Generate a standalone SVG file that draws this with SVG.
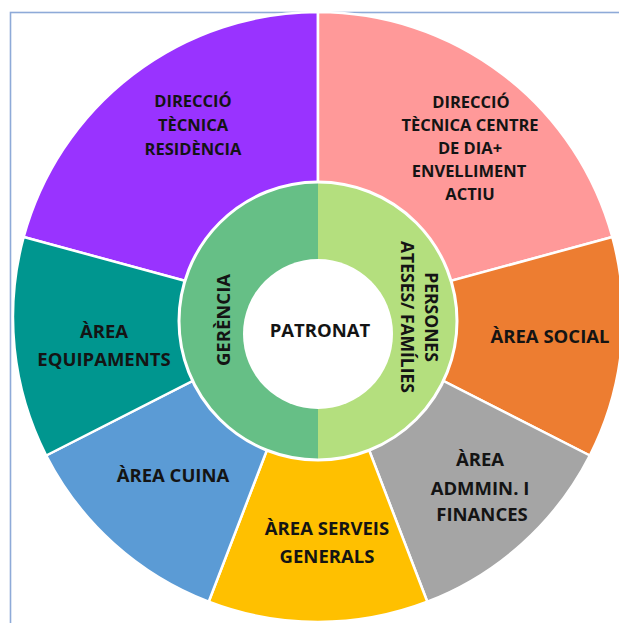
<svg xmlns="http://www.w3.org/2000/svg" width="619" height="623" viewBox="0 0 619 623">
  <style>
    .seg { stroke: #ffffff; stroke-width: 2.5; stroke-linejoin: round; }
    .lbl { font-family: "Open Sans", "Liberation Sans", sans-serif; font-weight: 700; fill: #141414; text-anchor: middle; }
    .s17 { font-size: 16.5px; }
    .s19 { font-size: 18.5px; }
  </style>
  <rect width="619" height="623" fill="#ffffff"/>
  <rect id="frame" x="10.5" y="12.5" width="700" height="700" fill="none" stroke="#8eaad8" stroke-width="1.6"/>

  <g id="dir-residencia">
    <path class="seg" d="M318,317 L23.7,237 A305,305 0 0,1 318,12 Z" fill="#9933ff"/>
    <text class="lbl s17" x="193"><tspan x="193" y="107">DIRECCIÓ</tspan><tspan x="193" y="131">TÈCNICA</tspan><tspan x="193" y="155">RESIDÈNCIA</tspan></text>
  </g>
  <g id="dir-centre-dia">
    <path class="seg" d="M318,317 L318,12 A305,305 0 0,1 612.3,237 Z" fill="#ff9999"/>
    <text class="lbl s17" x="470"><tspan x="471" y="108">DIRECCIÓ</tspan><tspan x="470" y="131">TÈCNICA CENTRE</tspan><tspan x="470" y="154">DE DIA+</tspan><tspan x="469" y="177">ENVELLIMENT</tspan><tspan x="470" y="200">ACTIU</tspan></text>
  </g>
  <g id="area-social">
    <path class="seg" d="M318,317 L612.3,237 A305,305 0 0,1 589.8,455.5 Z" fill="#ed7d31"/>
    <text class="lbl s19" x="550" y="343">ÀREA SOCIAL</text>
  </g>
  <g id="area-admin">
    <path class="seg" d="M318,317 L589.8,455.5 A305,305 0 0,1 427.3,601.7 Z" fill="#a5a5a5"/>
    <text class="lbl s19" x="480"><tspan x="480" y="466">ÀREA</tspan><tspan x="480" y="495">ADMMIN. I</tspan><tspan x="482" y="521">FINANCES</tspan></text>
  </g>
  <g id="area-serveis">
    <path class="seg" d="M318,317 L427.3,601.7 A305,305 0 0,1 208.7,601.7 Z" fill="#ffc000"/>
    <text class="lbl s19" x="327"><tspan x="327" y="535">ÀREA SERVEIS</tspan><tspan x="327" y="563">GENERALS</tspan></text>
  </g>
  <g id="area-cuina">
    <path class="seg" d="M318,317 L208.7,601.7 A305,305 0 0,1 46.2,455.5 Z" fill="#5b9bd5"/>
    <text class="lbl s19" x="173" y="482">ÀREA CUINA</text>
  </g>
  <g id="area-equipaments">
    <path class="seg" d="M318,317 L46.2,455.5 A305,305 0 0,1 23.7,237 Z" fill="#00968f"/>
    <text class="lbl s19" x="104"><tspan x="104" y="338">ÀREA</tspan><tspan x="104" y="366">EQUIPAMENTS</tspan></text>
  </g>

  <g id="gerencia">
    <path d="M318,182 A139,139 0 0,0 318,460 Z" fill="#66bf86"/>
    <text class="lbl s19" transform="translate(230,320) rotate(-90)" x="0" y="0">GERÈNCIA</text>
  </g>
  <g id="persones-ateses">
    <path d="M318,182 A139,139 0 0,1 318,460 Z" fill="#b4df7e"/>
    <text class="lbl" style="font-size:17.5px" transform="translate(425,317) rotate(90)" x="0" y="0">PERSONES</text>
    <text class="lbl" style="font-size:17.5px" transform="translate(401,317) rotate(90)" x="0" y="0">ATESES/ FAMÍLIES</text>
  </g>
  <circle cx="318" cy="321" r="139" fill="none" stroke="#ffffff" stroke-width="3"/>

  <g id="patronat">
    <circle cx="318" cy="334" r="75" fill="#ffffff"/>
    <text class="lbl s19" x="320" y="337">PATRONAT</text>
  </g>

  <g id="connectors"></g>
</svg>
